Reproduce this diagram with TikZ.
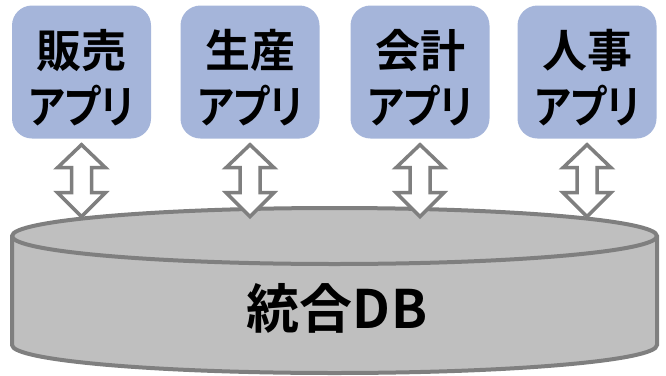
\documentclass[tikz,border=0pt]{standalone}
\usepackage{fontspec}
\usepackage{graphicx}
\newfontfamily\jpfont[RawFeature=+palt]{Noto Sans CJK JP Bold}
\newcommand{\kana}[1]{\scalebox{0.86}[1]{#1}}
\definecolor{boxblue}{HTML}{A5B5DA}
\definecolor{dbfill}{HTML}{BFBFBF}
\definecolor{dbline}{HTML}{7F7F7F}
\tikzset{
  appbox/.style={rounded corners=20pt, fill=boxblue, draw=none, minimum width=139pt, minimum height=133pt,
    inner sep=0pt},
  apptext/.style={inner sep=0pt, align=center, font=\jpfont\fontsize{45pt}{56pt}\selectfont},
  dbarrow/.style={draw=dbline, fill=white, line width=3.5pt, line join=miter},
  dbshape/.style={draw=dbline, fill=dbfill, line width=4pt}
}
\begin{document}
\begin{tikzpicture}[x=1pt,y=-1pt]
\useasboundingbox (0,0) rectangle (666,375);
% cylinder
\path[dbshape] (12,236) -- (12,345) arc[start angle=180, end angle=0, x radius=322.5, y radius=28] -- (657,236)
  arc[start angle=0, end angle=-180, x radius=322.5, y radius=28] -- cycle;
\draw[dbshape, fill=none] (12,236) arc[start angle=180, end angle=0, x radius=322.5, y radius=28];
\node[font=\jpfont\fontsize{53pt}{60pt}\selectfont, inner sep=0pt] (db) at (337,308) {統合D\kern2pt B};
% boxes
\node[appbox] (a1) at (81.5,72) {};
\node[appbox] (a2) at (250,72) {};
\node[appbox] (a3) at (420,72) {};
\node[appbox] (a4) at (587,72) {};
\node[apptext] (t1) at ([yshift=-6pt]a1.center) {販売\\\kana{アプリ}};
\node[apptext] (t2) at ([yshift=-6pt]a2.center) {生産\\\kana{アプリ}};
\node[apptext] (t3) at ([yshift=-6pt]a3.center) {会計\\\kana{アプリ}};
\node[apptext] (t4) at ([yshift=-6pt]a4.center) {人事\\\kana{アプリ}};
% arrows
\foreach \n in {a1,a2,a3,a4}{
  \path (\n.south) ++(0,6) coordinate (t\n);
  \draw[dbarrow] (t\n) -- ++(24,23) -- ++(-14,0) -- ++(0,25) -- ++(14,0) -- ++(-24,24) -- ++(-24,-24) -- ++(14,0) -- ++(0,-25) -- ++(-14,0) -- cycle;
}
\end{tikzpicture}
\end{document}
